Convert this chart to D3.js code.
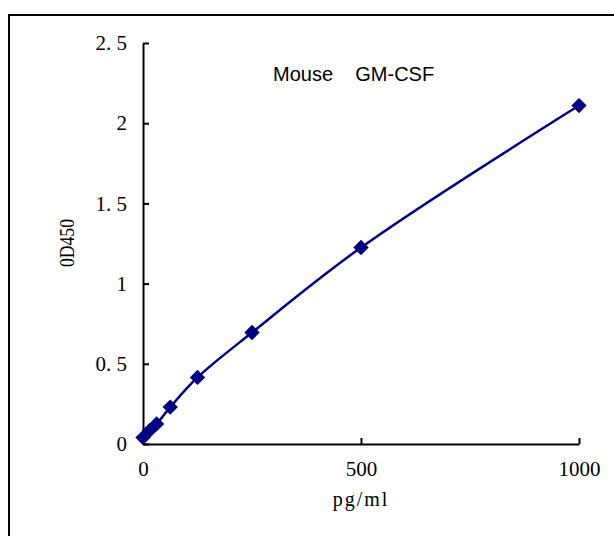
<!DOCTYPE html>
<html>
<head>
<meta charset="utf-8">
<script src="https://cdn.jsdelivr.net/npm/d3@7"></script>
<style>
  body { margin: 0; background: #fff; }
  svg { display: block; }
</style>
</head>
<body>
<script>
// standard curve data
const conc = [0, 15.6, 31.25, 62.5, 125, 250, 500, 1000];
const od = [0.04, 0.085, 0.125, 0.23, 0.415, 0.695, 1.225, 2.11];

const yTicks = [0, 0.5, 1, 1.5, 2, 2.5];
const yTickLabels = ["0", "0. 5", "1", "1. 5", "2", "2. 5"];
const xTicks = [0, 500, 1000];

const w = 614;
const h = 536;

const xScale = d3.scaleLinear().domain([0, 1000]).range([143, 579]);
const yScale = d3.scaleLinear().domain([0, 2.5]).range([444, 43]);

const svg = d3.select("body").append("svg").attr("width", w).attr("height", h);

// outer frame
svg.append("rect")
  .attr("x", 9).attr("y", 15)
  .attr("width", 620).attr("height", 540)
  .attr("fill", "none").attr("stroke", "#000").attr("stroke-width", 2);

// axes
const yAxis = d3.axisLeft(yScale)
  .tickValues(yTicks)
  .tickFormat((d, i) => yTickLabels[i])
  .tickSize(-6).tickSizeOuter(0).tickPadding(16);

const xAxis = d3.axisBottom(xScale)
  .tickValues(xTicks)
  .tickFormat(d3.format("d"))
  .tickSize(-6).tickSizeOuter(0).tickPadding(17);

const gy = svg.append("g").attr("transform", "translate(143,0)").call(yAxis);
const gx = svg.append("g").attr("transform", "translate(0,444)").call(xAxis);

[gx, gy].forEach(g => {
  g.select(".domain").attr("stroke", "#000").attr("stroke-width", 2);
  g.selectAll(".tick line").attr("stroke", "#000").attr("stroke-width", 2);
  g.selectAll("text")
    .attr("fill", "#000")
    .style("font-family", "'Liberation Serif', serif")
    .style("font-size", "21px");
});

// axis titles
svg.append("text")
  .attr("x", 361).attr("y", 506)
  .attr("text-anchor", "middle")
  .style("font-family", "'Liberation Serif', serif")
  .style("font-size", "20px")
  .style("letter-spacing", "2px")
  .text("pg/ml");

svg.append("text")
  .attr("transform", "translate(74,243) rotate(-90)")
  .attr("text-anchor", "middle")
  .attr("textLength", 48)
  .attr("lengthAdjust", "spacingAndGlyphs")
  .style("font-family", "'Liberation Serif', serif")
  .style("font-size", "21px")
  .text("0D450");

// title
svg.append("text")
  .attr("x", 273).attr("y", 81)
  .style("font-family", "'Liberation Sans', Arial, sans-serif")
  .style("font-size", "20px")
  .style("white-space", "pre")
  .text("Mouse    GM-CSF");

// curve
const pts = conc.map((c, i) => [c, od[i]]);
const line = d3.line()
  .x(d => xScale(d[0]))
  .y(d => yScale(d[1]))
  .curve(d3.curveCatmullRom.alpha(0.5));

svg.append("path")
  .datum(pts)
  .attr("d", line)
  .attr("fill", "none")
  .attr("stroke", "#000080")
  .attr("stroke-width", 2.5);

svg.selectAll(".pt")
  .data(pts)
  .enter()
  .append("path")
  .attr("class", "pt")
  .attr("transform", d => "translate(" + xScale(d[0]) + "," + yScale(d[1]) + ")")
  .attr("d", d3.symbol().type(d3.symbolDiamond2).size(150))
  .attr("fill", "#000080");
</script>
</body>
</html>
